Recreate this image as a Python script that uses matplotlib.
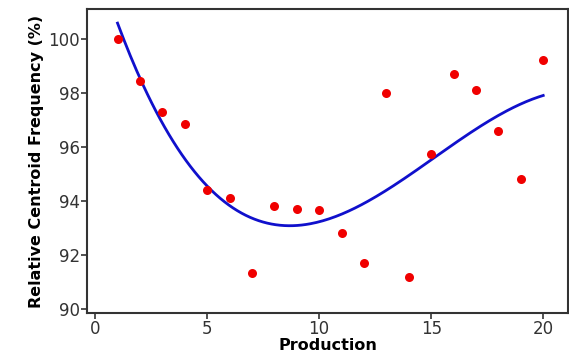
import numpy as np
import matplotlib
matplotlib.use("Agg")
import matplotlib.pyplot as plt

# Data
production = [1, 2, 3, 4, 5, 6, 7, 8, 9, 10, 11, 12, 13, 14, 15, 16, 17, 18, 19, 20]
centroid = [100.0, 98.45, 97.3, 96.85, 94.4, 94.1, 91.35, 93.8, 93.7, 93.65,
            92.8, 91.7, 98.0, 91.2, 95.75, 98.7, 98.1, 96.6, 94.8, 99.2]

fig = plt.figure(figsize=(5.69, 3.64), dpi=100)
ax = fig.add_axes([0.153, 0.14, 0.845, 0.835])

# the blue line is a cubic least-squares fit of the points
coef = np.polyfit(production, centroid, 3)
xx = np.linspace(min(production), max(production), 200)
ax.plot(xx, np.polyval(coef, xx), color="#1010cc", linewidth=2)
ax.plot(production, centroid, "o", color="#f00000", markersize=6.5, markeredgewidth=0)

ax.set_xlim(-0.36, 21.1)
ax.set_ylim(89.85, 101.1)
ax.set_xticks([0, 5, 10, 15, 20])
ax.set_yticks([90, 92, 94, 96, 98, 100])

ax.set_xlabel("Production", fontsize=11.5, fontweight="bold", labelpad=0)
ax.set_ylabel("Relative Centroid Frequency (%)", fontsize=11.5, fontweight="bold", labelpad=3)

ax.tick_params(axis="both", labelsize=12, length=4, width=1.2, color="#333333", labelcolor="#333333")
ax.tick_params(axis="x", pad=1)
ax.tick_params(axis="y", pad=1)
for s in ax.spines.values():
    s.set_linewidth(1.5)
    s.set_color("#333333")

fig.savefig("out.png", dpi=100)
